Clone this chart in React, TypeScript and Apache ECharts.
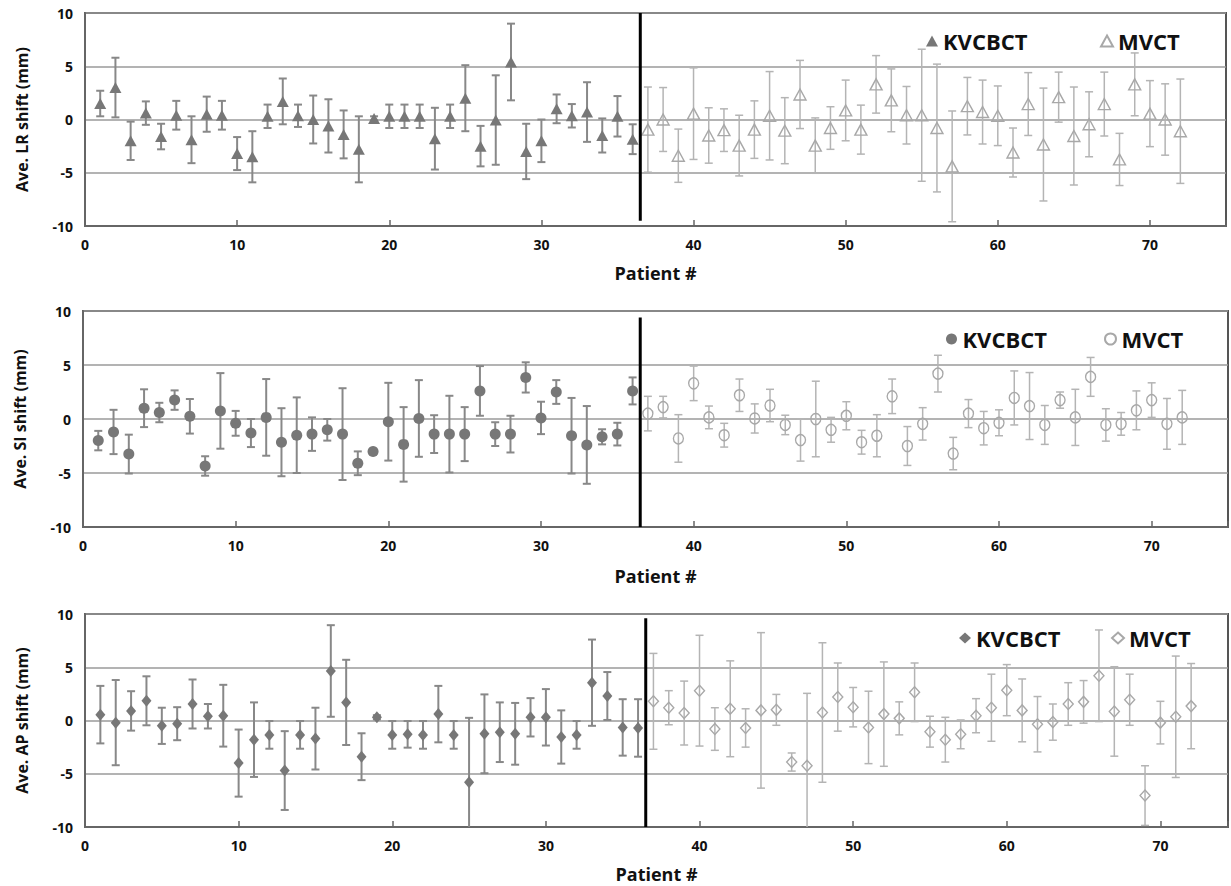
import React, { useEffect, useRef } from 'react';
import * as echarts from 'echarts';

const FONT = '"Open Sans", "DejaVu Sans", sans-serif';

// ---- Data (mean shift and SD, mm) ----
const kvPatients = Array.from({ length: 36 }, (_, i) => i + 1);
const mvPatients = Array.from({ length: 36 }, (_, i) => i + 37);

const lrKV = [1.5, 3.0, -2.0, 0.6, -1.6, 0.4, -1.9, 0.5, 0.4, -3.2, -3.5, 0.3, 1.7, 0.35, 0, -0.6, -1.4, -2.8, 0.1, 0.3, 0.3, 0.3, -1.8, 0.3, 2.0, -2.5, -0.05, 5.4, -3.0, -2.0, 1.0, 0.35, 0.7, -1.5, 0.3, -1.85];
const lrKVErr = [1.2, 2.8, 1.8, 1.1, 1.2, 1.35, 2.2, 1.65, 1.35, 1.55, 2.4, 1.1, 2.15, 1.05, 2.25, 2.5, 2.25, 3.1, 0.2, 1.1, 1.1, 1.1, 2.9, 1.1, 3.1, 1.9, 4.2, 3.6, 2.6, 2.0, 1.35, 1.1, 2.8, 1.6, 1.9, 1.4];
const lrMV = [-0.95, 0, -3.4, 0.55, -1.5, -1.0, -2.45, -0.95, 0.35, -1.05, 2.35, -2.45, -0.8, 0.85, -0.95, 3.3, 1.8, 0.4, 0.4, -0.8, -4.4, 1.25, 0.7, 0.35, -3.1, 1.45, -2.35, 2.1, -1.55, -0.45, 1.45, -3.75, 3.3, 0.55, 0, -1.1];
const lrMVErr = [4.0, 3.0, 2.5, 4.3, 2.6, 2.0, 2.85, 2.7, 4.15, 3.1, 3.2, 2.6, 2.0, 2.85, 2.3, 2.7, 2.95, 2.7, 6.2, 6.0, 5.2, 2.7, 3.0, 2.8, 2.3, 2.95, 5.3, 2.35, 4.6, 3.05, 3.0, 2.45, 2.95, 3.1, 3.35, 4.9];

const siKV = [-2.0, -1.2, -3.25, 1.0, 0.6, 1.75, 0.25, -4.35, 0.75, -0.4, -1.3, 0.15, -2.15, -1.5, -1.4, -1.0, -1.4, -4.1, -3.0, -0.25, -2.35, 0.05, -1.4, -1.4, -1.4, 2.6, -1.4, -1.4, 3.85, 0.1, 2.5, -1.55, -2.4, -1.65, -1.4, 2.6];
const siKVErr = [0.9, 2.05, 1.8, 1.75, 0.9, 0.9, 1.6, 0.9, 3.5, 1.15, 1.3, 3.55, 3.15, 3.5, 1.55, 1.0, 4.25, 1.1, 0.2, 3.6, 3.45, 3.55, 1.75, 3.55, 2.5, 2.3, 1.1, 1.7, 1.4, 1.5, 1.1, 3.5, 3.6, 0.7, 1.05, 1.25];
const siMV = [0.5, 1.1, -1.8, 3.3, 0.15, -1.5, 2.2, 0.05, 1.25, -0.55, -1.95, 0, -1.0, 0.3, -2.15, -1.55, 2.1, -2.5, -0.45, 4.2, -3.2, 0.5, -0.85, -0.35, 1.95, 1.2, -0.55, 1.75, 0.15, 3.9, -0.55, -0.45, 0.8, 1.75, -0.45, 0.15];
const siMVErr = [1.6, 1.0, 2.2, 1.6, 1.05, 1.1, 1.5, 1.35, 1.5, 0.9, 1.95, 3.5, 1.15, 1.3, 1.1, 1.95, 1.6, 1.8, 1.5, 1.7, 1.5, 1.3, 1.55, 1.2, 2.5, 3.1, 1.8, 0.75, 2.6, 1.8, 1.5, 1.05, 1.8, 1.6, 2.35, 2.5];

const apKV = [0.55, -0.2, 0.9, 1.85, -0.5, -0.3, 1.55, 0.4, 0.45, -4.0, -1.8, -1.35, -4.7, -1.35, -1.7, 4.65, 1.7, -3.4, 0.3, -1.35, -1.3, -1.35, 0.6, -1.35, -5.8, -1.25, -1.1, -1.25, 0.3, 0.3, -1.55, -1.35, 3.55, 2.3, -0.65, -0.7];
const apKVErr = [2.7, 4.0, 1.85, 2.3, 1.7, 1.55, 2.3, 1.15, 2.9, 3.15, 3.5, 1.3, 3.7, 1.3, 2.9, 4.3, 4.0, 2.2, 0.2, 1.3, 1.25, 1.3, 2.65, 1.3, 6.05, 3.7, 2.8, 2.9, 1.8, 2.65, 2.5, 1.3, 4.05, 2.25, 2.65, 2.7];
const apMV = [1.8, 1.2, 0.7, 2.8, -0.8, 1.1, -0.7, 0.95, 1.0, -3.9, -4.25, 0.75, 2.2, 1.25, -0.65, 0.6, 0.2, 2.65, -1.05, -1.8, -1.3, 0.45, 1.2, 2.85, 0.95, -0.35, -0.15, 1.55, 1.75, 4.2, 0.85, 1.95, -7.05, -0.2, 0.35, 1.35];
const apMVErr = [4.5, 1.6, 3.0, 5.2, 2.0, 4.5, 1.8, 7.3, 1.45, 0.85, 6.8, 6.55, 3.2, 1.85, 3.4, 4.9, 1.55, 2.75, 1.45, 2.1, 1.35, 1.6, 3.15, 2.4, 2.95, 2.6, 1.7, 2.0, 2.0, 4.3, 4.2, 2.4, 2.8, 2.0, 5.7, 4.0];

const yTitles = ['Ave. LR shift (mm)', 'Ave. SI shift (mm)', 'Ave. AP shift (mm)'];
const xTitle = 'Patient #';
const legendNames = ['KVCBCT', 'MVCT'];
const dividerX = 36.5;

// ---- Layout / style per panel ----
const panels = [
  { kv: lrKV, kvErr: lrKVErr, mv: lrMV, mvErr: lrMVErr, sym: 'triangle', kvSize: [12, 11], mvSize: [12, 11],
    grid: { left: 85, top: 13, width: 1141, height: 213 }, xMax: 75, nameGap: 38, line: [-9.5, 10],
    leg: [{ left: 921, top: 25 }, { left: 1095, top: 25 }] },
  { kv: siKV, kvErr: siKVErr, mv: siMV, mvErr: siMVErr, sym: 'circle', kvSize: [11, 11], mvSize: [10, 11],
    grid: { left: 83, top: 311, width: 1147, height: 216 }, xMax: 75, nameGap: 40, line: [-10, 9.4],
    leg: [{ left: 941, top: 323 }, { left: 1099, top: 323 }] },
  { kv: apKV, kvErr: apKVErr, mv: apMV, mvErr: apMVErr, sym: 'diamond', kvSize: [10, 12], mvSize: [10, 11],
    grid: { left: 85, top: 614, width: 1146, height: 213 }, xMax: 74.4, nameGap: 38, line: [-10, 9.6],
    leg: [{ left: 954, top: 622 }, { left: 1106, top: 622 }] },
];

const KV_COLOR = '#777777';
const KV_BAR = '#888888';
const MV_COLOR = '#a8a8a8';
const MV_BAR = '#b4b4b4';

function errRender(color: string, width: number) {
  return (params: any, api: any) => {
    const x = api.value(0);
    const m = api.value(1);
    const e = api.value(2);
    const top = api.coord([x, m + e]);
    const bot = api.coord([x, m - e]);
    const cap = 4;
    const style = { stroke: color, lineWidth: width };
    return {
      type: 'group',
      children: [
        { type: 'line', shape: { x1: top[0], y1: top[1], x2: bot[0], y2: bot[1] }, style },
        { type: 'line', shape: { x1: top[0] - cap, y1: top[1], x2: top[0] + cap, y2: top[1] }, style },
        { type: 'line', shape: { x1: bot[0] - cap, y1: bot[1], x2: bot[0] + cap, y2: bot[1] }, style },
      ],
    };
  };
}

function buildOption() {
  const grid: any[] = [];
  const xAxis: any[] = [];
  const yAxis: any[] = [];
  const series: any[] = [];
  const legend: any[] = [];

  panels.forEach((p, i) => {
    grid.push({ ...p.grid, show: true, borderColor: '#555', borderWidth: 2, backgroundColor: '#fff' });
    xAxis.push({
      gridIndex: i, type: 'value', min: 0, max: p.xMax, interval: 10,
      name: xTitle, nameLocation: 'middle', nameGap: p.nameGap,
      nameTextStyle: { fontFamily: FONT, fontWeight: 'bold', fontSize: 18, color: '#111' },
      axisLine: { show: true, onZero: false, lineStyle: { color: '#666', width: 2 } },
      axisTick: { show: true, inside: true, length: 6, lineStyle: { color: '#666', width: 1.5 } },
      axisLabel: { fontFamily: FONT, fontWeight: 'bold', fontSize: 14, color: '#111', margin: 11,
        formatter: (v: number) => (v % 10 === 0 ? String(v) : '') },
      splitLine: { show: false },
    });
    yAxis.push({
      gridIndex: i, type: 'value', min: -10, max: 10, interval: 5,
      name: yTitles[i], nameLocation: 'middle', nameGap: 55, nameRotate: 90,
      nameTextStyle: { fontFamily: FONT, fontWeight: 'bold', fontSize: 16, color: '#111' },
      axisLine: { show: true, lineStyle: { color: '#666', width: 2 } },
      axisTick: { show: false },
      axisLabel: { fontFamily: FONT, fontWeight: 'bold', fontSize: 14, color: '#111', margin: 12 },
      splitLine: { show: true, lineStyle: { color: '#9a9a9a', width: 1.5 } },
    });

    const kvBars = kvPatients.map((x, j) => [x, p.kv[j], p.kvErr[j]]);
    const mvBars = mvPatients.map((x, j) => [x, p.mv[j], p.mvErr[j]]);
    series.push({
      type: 'custom', xAxisIndex: i, yAxisIndex: i, clip: true, silent: true,
      renderItem: errRender(KV_BAR, 2), data: kvBars, encode: { x: 0, y: 1 }, z: 2,
    });
    series.push({
      type: 'custom', xAxisIndex: i, yAxisIndex: i, clip: true, silent: true,
      renderItem: errRender(MV_BAR, 1.5), data: mvBars, encode: { x: 0, y: 1 }, z: 2,
    });
    series.push({
      name: legendNames[0] + '_' + i, type: 'scatter', xAxisIndex: i, yAxisIndex: i,
      symbol: p.sym, symbolSize: p.kvSize, z: 3,
      itemStyle: { color: KV_COLOR, opacity: 1 },
      data: kvPatients.map((x, j) => [x, p.kv[j]]),
    });
    series.push({
      name: legendNames[1] + '_' + i, type: 'scatter', xAxisIndex: i, yAxisIndex: i,
      symbol: p.sym, symbolSize: p.mvSize, z: 3,
      itemStyle: { color: 'rgba(255,255,255,0)', borderColor: MV_COLOR, borderWidth: 1.4, opacity: 1 },
      data: mvPatients.map((x, j) => [x, p.mv[j]]),
    });
    series.push({
      type: 'line', xAxisIndex: i, yAxisIndex: i, silent: true, symbol: 'none', z: 4,
      lineStyle: { color: '#000', width: 3 },
      data: [[dividerX, p.line[0]], [dividerX, p.line[1]]],
    });

    legendNames.forEach((n, k) => {
      legend.push({
        data: [n + '_' + i], left: p.leg[k].left, top: p.leg[k].top, selectedMode: false,
        itemWidth: 12, itemHeight: 11, itemGap: 0,
        formatter: (name: string) => name.split('_')[0],
        textStyle: { fontFamily: FONT, fontWeight: 'bold', fontSize: 22, color: '#111' },
      });
    });
  });

  return { animation: false, backgroundColor: '#fff', grid, xAxis, yAxis, series, legend };
}

export default function App() {
  const ref = useRef<HTMLDivElement>(null);
  useEffect(() => {
    if (!ref.current) return;
    const chart = echarts.init(ref.current, undefined, { renderer: 'svg' });
    chart.setOption(buildOption() as any);
    return () => chart.dispose();
  }, []);
  return (
    <div
      ref={ref}
      style={{ position: 'absolute', left: 0, top: 0, width: 1231, height: 886, background: '#fff' }}
    />
  );
}
